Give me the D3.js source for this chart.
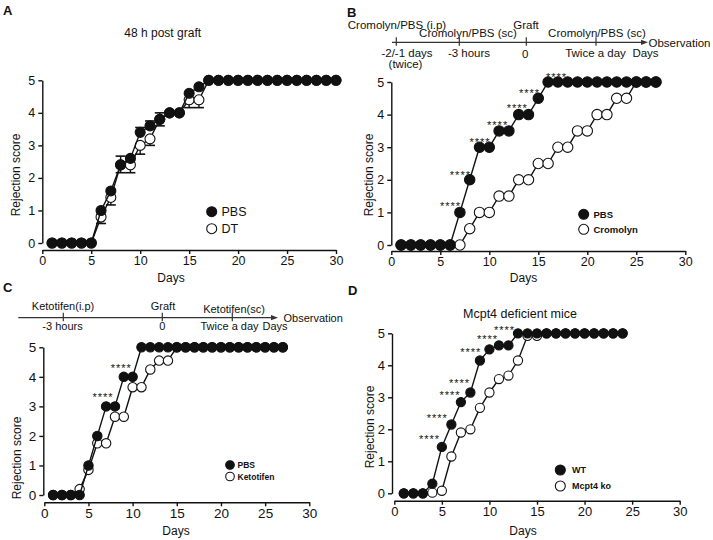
<!DOCTYPE html>
<html><head><meta charset="utf-8">
<script src="https://cdn.jsdelivr.net/npm/d3@7"></script>
<style>body{margin:0;background:#fff}</style>
</head><body>
<svg id="c" width="713" height="540"></svg>
<script>
// ---------- DATA ----------
const daysA = [1,2,3,4,5,6,7,8,9,10,11,12,13,14,15,16,17,18,19,20,21,22,23,24,25,26,27,28,29,30];
const pbsA  = [0,0,0,0,0,1.0,1.6,2.4,2.6,3.4,3.6,3.8,4.0,4.0,4.6,4.8,5,5,5,5,5,5,5,5,5,5,5,5,5,5];
const dtA   = [0,0,0,0,0,0.8,1.4,2.4,2.4,3.0,3.2,3.8,4.0,4.0,4.4,4.4,5,5,5,5,5,5,5,5,5,5,5,5,5,5];
const pbsAErr = [0,0,0,0,0,0,0,0.27,0,0.15,0.15,0.2,0,0,0,0,0,0,0,0,0,0,0,0,0,0,0,0,0,0];
const dtAErr  = [0,0,0,0,0,0.2,0.23,0.24,0.24,0.27,0.2,0.2,0,0,0.24,0.24,0,0,0,0,0,0,0,0,0,0,0,0,0,0];

const daysB = [1,2,3,4,5,6,7,8,9,10,11,12,13,14,15,16,17,18,19,20,21,22,23,24,25,26,27];
const pbsB  = [0,0,0,0,0,0,1,2,3,3,3.5,3.5,4,4,4.5,5,5,5,5,5,5,5,5,5,5,5,5];
const cromB = [0,0,0,0,0,0,0,0.5,1,1,1.5,1.5,2,2,2.5,2.5,3,3,3.5,3.5,4,4,4.5,4.5,5,5,5];
const starDaysB   = [6.0,7.0,9.0,10.8,12.8,14.05,16.8];
const starScoresB = [1.26,2.22,3.24,3.76,4.27,4.75,5.24];

const daysC = [1,2,3,4,5,6,7,8,9,10,11,12,13,14,15,16,17,18,19,20,21,22,23,24,25,26,27];
const pbsC  = [0,0,0,0,1,2,3,3,4,4,5,5,5,5,5,5,5,5,5,5,5,5,5,5,5,5,5];
const ketoC = [0,0,0,0.2,0.85,1.75,1.75,2.65,2.65,3.65,3.65,4.25,4.55,4.55,5,5,5,5,5,5,5,5,5,5,5,5,5];
const starDaysC   = [6.6,8.65];
const starScoresC = [3.39,4.4];

const daysD = [1,2,3,4,5,6,7,8,9,10,11,12,13,14,15,16,17,18,19,20,21,22,23,24];
const wtD   = [0,0,0,0.3,1.45,2.15,2.85,3.15,4.15,4.5,4.62,4.62,5,5,5,5,5,5,5,5,5,5,5,5];
const koD   = [0,0,0,0.02,0.08,1.15,1.9,2.0,2.67,3.15,3.57,3.68,4.15,4.92,4.92,5,5,5,5,5,5,5,5,5];
const starDaysD   = [3.65,4.47,5.8,6.8,7.99,9.75,11.53];
const starScoresD = [1.77,2.43,3.14,3.54,4.48,4.89,5.19];

const xTicks = [0,5,10,15,20,25,30];
const yTicks = [0,1,2,3,4,5];

// ---------- DRAW ----------
const FONT = "'Liberation Sans', Arial, Helvetica, sans-serif";
const INK = "#111";
const svg = d3.select("#c").style("font-family", FONT);

function panel(cfg) {
  const g = svg.append("g");
  const x = d3.scaleLinear().domain([0,30]).range(cfg.xr);
  const y = d3.scaleLinear().domain([0,5]).range(cfg.yr);

  const ya = g.append("g").attr("transform", `translate(${cfg.yAxisX},0)`)
    .call(d3.axisLeft(y).tickValues(yTicks).tickFormat(d3.format("d")).tickSize(4).tickSizeOuter(0).tickPadding(3));
  const xa = g.append("g").attr("transform", `translate(0,${cfg.axisY})`)
    .call(d3.axisBottom(x).tickValues(xTicks).tickSize(4).tickSizeOuter(0).tickPadding(2));
  [ya, xa].forEach(a => {
    a.selectAll("path,line").attr("stroke", INK).attr("stroke-width", 1.4);
    a.selectAll("text").attr("fill", INK).style("font-size", cfg.tickFont + "px").style("font-family", FONT);
  });

  g.append("text").attr("x", cfg.xlab[0]).attr("y", cfg.xlab[1]).attr("text-anchor", "middle")
    .style("font-size", "12px").attr("fill", INK).text("Days");
  g.append("text").attr("transform", `translate(${cfg.ylab[0]},${cfg.ylab[1]}) rotate(-90)`)
    .attr("text-anchor", "middle").style("font-size", "12px").attr("fill", INK).text("Rejection score");

  cfg.series.forEach(s => {
    const pts = s.days.map((d, i) => [d, s.vals[i]]);
    g.append("path").datum(pts)
      .attr("d", d3.line().x(p => x(p[0])).y(p => y(p[1])))
      .attr("fill", "none").attr("stroke", INK).attr("stroke-width", 1.4);
    if (s.err) {
      const cw = 5;
      s.days.forEach((d, i) => {
        const e = s.err[i];
        if (!e) return;
        const v2 = s.vals[i] + s.errDir * e;
        g.append("line").attr("x1", x(d)).attr("x2", x(d)).attr("y1", y(s.vals[i])).attr("y2", y(v2))
          .attr("stroke", INK).attr("stroke-width", 1.4);
        g.append("line").attr("x1", x(d) - cw).attr("x2", x(d) + cw).attr("y1", y(v2)).attr("y2", y(v2))
          .attr("stroke", INK).attr("stroke-width", 1.6);
      });
    }
    g.selectAll(null).data(pts).join("circle")
      .attr("cx", p => x(p[0])).attr("cy", p => y(p[1])).attr("r", cfg.r)
      .attr("fill", s.filled ? INK : "#fff").attr("stroke", INK).attr("stroke-width", 1.1);
  });

  if (cfg.stars) {
    cfg.stars.days.forEach((d, i) => {
      g.append("text").attr("x", x(d) + 0.5).attr("y", y(cfg.stars.scores[i]) + 6.5)
        .attr("text-anchor", "middle").style("font-size", "11px").style("letter-spacing", "1px")
        .attr("fill", INK).text("****");
    });
  }

  const L = cfg.legend;
  L.items.forEach((it, i) => {
    const cy = L.y + i * L.dy;
    g.append("circle").attr("cx", L.x).attr("cy", cy).attr("r", L.r)
      .attr("fill", it.filled ? INK : "#fff").attr("stroke", INK).attr("stroke-width", 1.1);
    g.append("text").attr("x", L.tx).attr("y", cy + L.fs * 0.36)
      .style("font-size", L.fs + "px").style("font-weight", L.bold ? "bold" : "normal")
      .attr("fill", INK).text(it.label);
  });
  return g;
}

panel({
  xr: [42.3, 336], yr: [243, 80.3], yAxisX: 42.3, axisY: 250, r: 5, tickFont: 12.5,
  xlab: [171, 282], ylab: [20.3, 175],
  series: [
    {days: daysA, vals: dtA, filled: false, err: dtAErr, errDir: -1},
    {days: daysA, vals: pbsA, filled: true, err: pbsAErr, errDir: 1}
  ],
  legend: {x: 211.7, y: 211.7, dy: 17, r: 5, tx: 221.5, fs: 12.5, bold: false,
           items: [{label: "PBS", filled: true}, {label: "DT", filled: false}]}
});

panel({
  xr: [391.3, 685.3], yr: [245, 82], yAxisX: 391.3, axisY: 251, r: 5.2, tickFont: 12.5,
  xlab: [523.5, 282], ylab: [373.3, 175],
  series: [
    {days: daysB, vals: cromB, filled: false},
    {days: daysB, vals: pbsB, filled: true}
  ],
  stars: {days: starDaysB, scores: starScoresB},
  legend: {x: 583.7, y: 214.3, dy: 15, r: 5, tx: 593.5, fs: 9.5, bold: true,
           items: [{label: "PBS", filled: true}, {label: "Cromolyn", filled: false}]}
});

panel({
  xr: [44.3, 309.3], yr: [495, 347.3], yAxisX: 43.3, axisY: 502.3, r: 4.7, tickFont: 13.5,
  xlab: [176, 535], ylab: [21.3, 458],
  series: [
    {days: daysC, vals: ketoC, filled: false},
    {days: daysC, vals: pbsC, filled: true}
  ],
  stars: {days: starDaysC, scores: starScoresC},
  legend: {x: 230, y: 465, dy: 11.5, r: 4.3, tx: 237.5, fs: 8.5, bold: true,
           items: [{label: "PBS", filled: true}, {label: "Ketotifen", filled: false}]}
});

panel({
  xr: [394.3, 679.7], yr: [493.3, 333.3], yAxisX: 392, axisY: 500.7, r: 4.6, tickFont: 13,
  xlab: [523, 535], ylab: [374.3, 427],
  series: [
    {days: daysD, vals: koD, filled: false},
    {days: daysD, vals: wtD, filled: true}
  ],
  stars: {days: starDaysD, scores: starScoresD},
  legend: {x: 560.3, y: 470, dy: 16, r: 5, tx: 572, fs: 9, bold: true,
           items: [{label: "WT", filled: true}, {label: "Mcpt4 ko", filled: false}]}
});

const T = (x, y, s, opt = {}) => svg.append("text").attr("x", x).attr("y", y)
  .attr("text-anchor", opt.anchor || "middle").style("font-size", (opt.fs || 12) + "px")
  .style("font-weight", opt.bold ? "bold" : "normal").attr("fill", INK).text(s);
T(3, 14.5, "A", {anchor: "start", fs: 13, bold: true});
T(347, 17, "B", {anchor: "start", fs: 13, bold: true});
T(3, 292, "C", {anchor: "start", fs: 13, bold: true});
T(348, 295, "D", {anchor: "start", fs: 13, bold: true});
T(162.7, 36.5, "48 h post graft", {fs: 12});
T(520, 318, "Mcpt4 deficient mice", {fs: 12.5});

function timeline(x0, x1, y, ticks, texts, obs, fs) {
  svg.append("line").attr("x1", x0).attr("x2", x1 - 5).attr("y1", y).attr("y2", y)
    .attr("stroke", "#333").attr("stroke-width", 1.2);
  svg.append("path").attr("d", `M${x1},${y} L${x1 - 7},${y - 2.6} L${x1 - 7},${y + 2.6} Z`).attr("fill", "#333");
  ticks.forEach(t => svg.append("line").attr("x1", t).attr("x2", t).attr("y1", y - 5).attr("y2", y + 3.5)
    .attr("stroke", "#333").attr("stroke-width", 1.2));
  texts.forEach(t => T(t[0], t[1], t[2], {fs: fs}));
  T(obs[0], obs[1], "Observation", {anchor: "start", fs: fs});
}
timeline(392, 648, 42.3, [396.3, 459.3, 526.3, 596],
  [[397, 28.5, "Cromolyn/PBS (i.p)"], [468, 37, "Cromolyn/PBS (sc)"], [526, 28.5, "Graft"],
   [597, 37, "Cromolyn/PBS (sc)"], [407, 57, "-2/-1 days"], [405.5, 67.5, "(twice)"],
   [469, 57, "-3 hours"], [525.3, 58, "0"], [595.5, 57, "Twice a day"], [645.5, 57, "Days"]],
  [648.5, 46.5], 11.5);
timeline(18.3, 278, 317.7, [63.3, 162.3, 232.3],
  [[63, 310, "Ketotifen(i.p)"], [163, 310, "Graft"], [234, 313, "Ketotifen(sc)"],
   [62.5, 330, "-3 hours"], [162.3, 330, "0"], [229.5, 330, "Twice a day"], [275, 330, "Days"]],
  [283.5, 322], 11);
</script>
</body></html>
